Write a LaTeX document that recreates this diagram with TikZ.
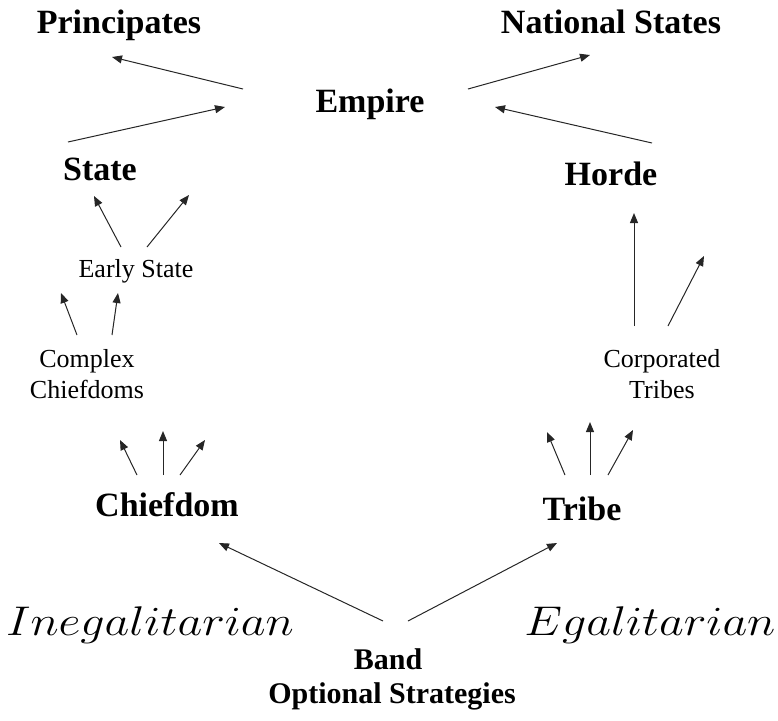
\documentclass[tikz,border=0pt]{standalone}
\usepackage[no-math]{fontspec}
\setmainfont{Liberation Serif}
\usepackage{graphicx}
\usetikzlibrary{arrows.meta}

\tikzset{
  big/.style={font=\fontsize{17}{20}\selectfont\bfseries, inner sep=0pt, anchor=base},
  mid/.style={font=\fontsize{15}{18}\selectfont\bfseries, inner sep=0pt, anchor=base},
  small/.style={font=\fontsize{13}{15.5}\selectfont, inner sep=0pt, align=center},
  ital/.style={font=\fontsize{19.5}{22}\selectfont, inner sep=0pt, anchor=base},
  arr/.style={draw=black!85, line width=0.5pt, -{Triangle[length=5pt,width=4pt]}}
}
\newcommand{\wideit}[1]{\scalebox{1.16}[1]{$#1$}}

\begin{document}
\begin{tikzpicture}[x=0.5pt, y=-0.5pt]
  \useasboundingbox (0,0) rectangle (778,720);

  % ===== labels =====
  \node[big] (princ)  at (119,33)  {Principates};
  \node[big] (natst)  at (611,33)  {National States};
  \node[big] (empire) at (370,112) {Empire};
  \node[big] (state)  at (100,180) {State};
  \node[big] (horde)  at (611,185) {Horde};
  \node[small, anchor=base] (early) at (136,277) {Early State};
  \node[small] (cplx) at (87,374.5)  {Complex\\Chiefdoms};
  \node[small] (corp) at (662,374.5) {Corporated\\Tribes};
  \node[big] (chief)  at (167,516) {Chiefdom};
  \node[big] (tribe)  at (582,520) {Tribe};
  \node[ital] (ineg)  at (150,635) {\wideit{Inegalitarian}};
  \node[ital] (egal)  at (650,635) {\wideit{Egalitarian}};
  \node[mid] (band)   at (388,669) {Band};
  \node[mid] (opt)    at (392,703) {Optional Strategies};

  % ===== arrow ends =====
  \foreach \n/\p in {a1/{243,89}, a2/{112,57}, b1/{68,142}, b2/{225,107},
                     c1/{468,89}, c2/{590,55}, d1/{652,143}, d2/{495,107},
                     e1/{121,247}, e2/{94,196}, f1/{147,247}, f2/{189,195},
                     g1/{77,335}, g2/{61,293}, h1/{112,335}, h2/{118,293},
                     i1/{137,475}, i2/{120,440}, j1/{163,475}, j2/{163,431},
                     k1/{180,475}, k2/{205,440},
                     l1/{565,475}, l2/{547,432}, m1/{590,475}, m2/{590,422},
                     n1/{608,475}, n2/{633,430},
                     o1/{634,326}, o2/{634,213}, p1/{668,326}, p2/{704,256},
                     q1/{383,621}, q2/{219,543}, r1/{408,621}, r2/{557,543}}
    \coordinate (\n) at (\p);

  % ===== arrows =====
  \foreach \s in {a,b,c,d,e,f,g,h,i,j,k,l,m,n,o,p,q,r}
    \draw[arr] (\s1) -- (\s2);
\end{tikzpicture}
\end{document}
